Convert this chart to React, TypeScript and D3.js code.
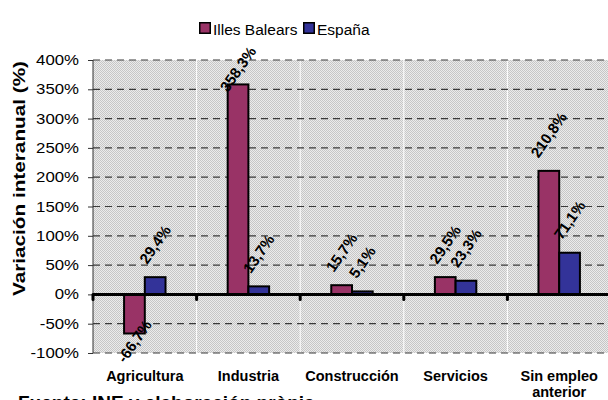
import { useEffect, useRef } from 'react';
import * as d3 from 'd3';

const categories = ['Agricultura', 'Industria', 'Construcción', 'Servicios', 'Sin empleo anterior'];
const categoryLines = [['Agricultura'], ['Industria'], ['Construcción'], ['Servicios'], ['Sin empleo', 'anterior']];
const series = ['Illes Balears', 'España'];
const balears = [-66.7, 358.3, 15.7, 29.5, 210.8];
const espana = [29.4, 13.7, 5.1, 23.3, 71.1];
const yTicks = [-100, -50, 0, 50, 100, 150, 200, 250, 300, 350, 400];
const colors = ['#993366', '#333399'];
const footer = 'Fuente: INE y elaboración pròpia';

const FONT = "'Liberation Sans', Arial, sans-serif";

export default function App() {
  const svgRef = useRef<SVGSVGElement>(null);

  useEffect(() => {
    const width = 608;
    const height = 400;
    const marginTop = 60;
    const marginLeft = 93;
    const plotRight = 611;
    const plotBottom = 353;

    const svg = d3.select(svgRef.current);
    svg.selectAll('*').remove();

    const x0 = d3
      .scaleBand<string>()
      .domain(categories)
      .range([marginLeft, plotRight])
      .paddingInner(0.6)
      .paddingOuter(0.3);
    const x1 = d3.scaleBand<string>().domain(series).range([0, x0.bandwidth()]);
    const y = d3.scaleLinear().domain([-100, 400]).range([plotBottom, marginTop]);
    const step = x0.step();
    const bounds = categories.map((_, i) => marginLeft + i * step);

    // dotted background pattern
    const defs = svg.append('defs');
    const pat = defs
      .append('pattern')
      .attr('id', 'dots')
      .attr('width', 2)
      .attr('height', 2)
      .attr('patternUnits', 'userSpaceOnUse');
    pat.append('rect').attr('width', 2).attr('height', 2).attr('fill', '#ebebeb');
    pat.append('rect').attr('width', 1).attr('height', 1).attr('fill', '#c6c6c6');
    pat.append('rect').attr('x', 1).attr('y', 1).attr('width', 1).attr('height', 1).attr('fill', '#c6c6c6');

    svg
      .append('rect')
      .attr('x', marginLeft)
      .attr('y', marginTop)
      .attr('width', plotRight - marginLeft)
      .attr('height', plotBottom - marginTop)
      .attr('fill', 'url(#dots)');

    // vertical white separators
    svg
      .append('g')
      .selectAll('line')
      .data(bounds.slice(1))
      .join('line')
      .attr('x1', (d) => d)
      .attr('x2', (d) => d)
      .attr('y1', marginTop)
      .attr('y2', plotBottom)
      .attr('stroke', '#ffffff')
      .attr('stroke-width', 1);

    // dashed horizontal grid
    svg
      .append('g')
      .selectAll('line')
      .data(yTicks.filter((t) => t !== 0))
      .join('line')
      .attr('x1', marginLeft)
      .attr('x2', plotRight)
      .attr('y1', (d) => y(d))
      .attr('y2', (d) => y(d))
      .attr('stroke', '#3a3a3a')
      .attr('stroke-width', 1.2)
      .attr('stroke-dasharray', '7,5');

    // y axis
    const yAxis = svg
      .append('g')
      .attr('transform', `translate(${marginLeft},0)`)
      .call(d3.axisLeft(y).tickValues(yTicks).tickSize(5).tickFormat(() => ''));
    yAxis.selectAll('path,line').attr('stroke', '#333');
    yAxis.select('.domain').attr('d', `M0,${marginTop}V${plotBottom}`);

    svg
      .append('g')
      .selectAll('text')
      .data(yTicks)
      .join('text')
      .attr('transform', (d) => `translate(${marginLeft - 14},${y(d) + 5}) scale(1.2,1)`)
      .attr('text-anchor', 'end')
      .attr('font-family', FONT)
      .attr('font-size', 14)
      .attr('fill', '#000')
      .text((d) => `${d}%`);

    // bars
    const valuesBySeries = [balears, espana];
    const barData = categories.flatMap((c, i) =>
      series.map((s, j) => ({ c, s, j, v: valuesBySeries[j][i] }))
    );
    svg
      .append('g')
      .selectAll('rect')
      .data(barData)
      .join('rect')
      .attr('x', (d) => x0(d.c)! + x1(d.s)!)
      .attr('width', x1.bandwidth())
      .attr('y', (d) => y(Math.max(0, d.v)))
      .attr('height', (d) => Math.abs(y(d.v) - y(0)))
      .attr('fill', (d) => colors[d.j])
      .attr('stroke', '#000')
      .attr('stroke-width', 2);

    // zero line with ticks
    svg
      .append('line')
      .attr('x1', marginLeft)
      .attr('x2', plotRight)
      .attr('y1', y(0))
      .attr('y2', y(0))
      .attr('stroke', '#000')
      .attr('stroke-width', 3);
    svg
      .append('g')
      .selectAll('line')
      .data(bounds)
      .join('line')
      .attr('x1', (d) => d)
      .attr('x2', (d) => d)
      .attr('y1', y(0))
      .attr('y2', y(0) + 5)
      .attr('stroke', '#000')
      .attr('stroke-width', 3)
      .attr('stroke-linecap', 'round');

    // data labels, rotated
    const angle = 55;
    const rad = (angle * Math.PI) / 180;
    const labelSize = 15;
    const labels = svg.append('g');
    barData.forEach((d) => {
      const cx = x0(d.c)! + x1(d.s)! + x1.bandwidth() / 2;
      const t = labels
        .append('text')
        .attr('text-anchor', 'middle')
        .attr('dy', '0.35em')
        .attr('font-family', FONT)
        .attr('font-weight', 'bold')
        .attr('font-size', labelSize)
        .attr('fill', '#000')
        .text(`${d.v.toFixed(1).replace('.', ',')}%`);
      const w = (t.node() as SVGTextElement).getComputedTextLength();
      const half = (w * Math.sin(rad) + labelSize * 0.75 * Math.cos(rad)) / 2;
      let cy;
      if (d.v >= 0) {
        cy = Math.max(y(d.v) - half - 12, 45 + half);
      } else {
        cy = Math.min(y(d.v) + half + 12, 364 - half);
      }
      t.attr('transform', `translate(${cx},${cy}) rotate(${-angle})`);
    });

    // category labels
    const catG = svg.append('g');
    categories.forEach((c, i) => {
      const cx = x0(c)! + x0.bandwidth() / 2;
      categoryLines[i].forEach((line, k) => {
        catG
          .append('text')
          .attr('x', cx)
          .attr('y', 381 + k * 16)
          .attr('text-anchor', 'middle')
          .attr('font-family', FONT)
          .attr('font-weight', 'bold')
          .attr('font-size', 14.5)
          .attr('fill', '#000')
          .text(line);
      });
    });

    // y axis title
    svg
      .append('text')
      .attr('transform', `translate(25,${(marginTop + 297) / 2}) rotate(-90) scale(1.22,1)`)
      .attr('text-anchor', 'middle')
      .attr('font-family', FONT)
      .attr('font-weight', 'bold')
      .attr('font-size', 17)
      .attr('fill', '#000')
      .text('Variación interanual (%)');

    // legend
    const legend = svg.append('g').attr('transform', 'translate(199,22)');
    const legendX = [0, 104];
    series.forEach((s, j) => {
      const g = legend.append('g').attr('transform', `translate(${legendX[j]},0)`);
      g.append('rect')
        .attr('x', 0.75)
        .attr('y', 0.75)
        .attr('width', 10.5)
        .attr('height', 10.5)
        .attr('fill', colors[j])
        .attr('stroke', '#000')
        .attr('stroke-width', 1.5);
      g.append('text')
        .attr('x', 14)
        .attr('y', 12.5)
        .attr('font-family', FONT)
        .attr('font-size', 15.5)
        .attr('fill', '#000')
        .text(s);
    });

    // source note (cut off at the bottom)
    svg
      .append('text')
      .attr('x', 18)
      .attr('y', 409)
      .attr('font-family', FONT)
      .attr('font-weight', 'bold')
      .attr('font-size', 19)
      .attr('fill', '#000')
      .text(footer);

    svg.attr('width', width).attr('height', height);
  }, []);

  return (
    <svg
      ref={svgRef}
      width={608}
      height={400}
      style={{ position: 'absolute', left: 0, top: 0, background: '#fff' }}
    />
  );
}
